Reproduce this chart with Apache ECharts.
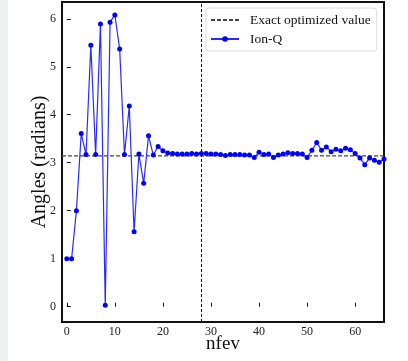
<!DOCTYPE html>
<html>
<head>
<meta charset="utf-8">
<script src="https://cdn.jsdelivr.net/npm/echarts@6/dist/echarts.min.js"></script>
<style>html,body{margin:0;padding:0;background:#fff;}#c{width:408px;height:361px;}</style>
</head>
<body>
<div id="c"></div>
<script>
const nfev = [];
for (let i = 0; i <= 66; i++) nfev.push(i);
const ionQ = [1.00,1.00,2.00,3.61,3.17,5.45,3.17,5.89,0.03,5.93,
  6.08,5.37,3.17,4.18,1.56,3.18,2.57,3.56,3.16,3.34,
  3.25,3.20,3.19,3.18,3.18,3.18,3.19,3.18,3.19,3.19,
  3.18,3.18,3.17,3.15,3.17,3.17,3.17,3.16,3.16,3.11,
  3.22,3.17,3.18,3.11,3.16,3.18,3.21,3.19,3.19,3.18,
  3.11,3.26,3.42,3.26,3.33,3.23,3.28,3.25,3.30,3.27,
  3.19,3.10,2.96,3.10,3.05,3.01,3.08];
const exactValue = Math.PI;
const optimumNfev = 28;
const xTicks = [0,10,20,30,40,50,60];
const yTicks = [0,1,2,3,4,5,6];
const xRange = [-1, 66];
const yRange = [-0.32, 6.35];

const font = 'Liberation Serif';
const chart = echarts.init(document.getElementById('c'));
chart.setOption({
  animation: false,
  backgroundColor: '#fff',
  graphic: [{type:'rect', shape:{x:0,y:0,width:8,height:361}, style:{fill:'#eef2ef'}, z:-1}],
  grid: {left: 62, right: 24, top: 2, bottom: 39, outerBoundsMode: 'none', containLabel: false,
    show: true, borderColor: '#111', borderWidth: 2, backgroundColor: 'transparent'},
  xAxis: {
    type: 'value', min: xRange[0], max: xRange[1],
    name: 'nfev', nameLocation: 'middle', nameGap: 13, nameMoveOverlap: false,
    nameTextStyle: {fontFamily: font, fontSize: 19, color: '#111'},
    axisLine: {show: false},
    splitLine: {show: false},
    axisTick: {inside: true, length: 4, customValues: xTicks, lineStyle: {color: '#111'}},
    axisLabel: {customValues: xTicks, fontFamily: font, fontSize: 12, color: '#222', margin: 4}
  },
  yAxis: {
    type: 'value', min: yRange[0], max: yRange[1],
    name: 'Angles (radians)', nameLocation: 'middle', nameGap: 12, nameMoveOverlap: false,
    nameTextStyle: {fontFamily: font, fontSize: 20, color: '#111'},
    axisLine: {show: false},
    splitLine: {show: false},
    axisTick: {inside: true, length: 4, customValues: yTicks, lineStyle: {color: '#111'}},
    axisLabel: {customValues: yTicks, fontFamily: font, fontSize: 12, color: '#222', margin: 6}
  },
  legend: {
    orient: 'vertical', left: 206, top: 8,
    backgroundColor: '#fff', borderColor: '#ddd', borderWidth: 1, borderRadius: 3,
    padding: [5, 6, 5, 4], itemGap: 5, itemWidth: 28, itemHeight: 7,
    textStyle: {fontFamily: font, fontSize: 13.5, color: '#111', padding: [0,0,0,6]},
    data: [
      {name: 'Exact optimized value', itemStyle: {opacity: 0}},
      {name: 'Ion-Q'}
    ]
  },
  series: [
    {
      name: 'Exact optimized value', type: 'line', symbol: 'none',
      data: [[xRange[0], exactValue], [xRange[1], exactValue]],
      lineStyle: {color: '#444', width: 1.3, type: [4, 2]},
      itemStyle: {color: '#444'},
      z: 1,
      markLine: {
        silent: true, symbol: 'none', label: {show: false},
        lineStyle: {color: '#111', width: 1, type: [3, 2]},
        data: [{xAxis: optimumNfev}]
      }
    },
    {
      name: 'Ion-Q', type: 'line', symbol: 'circle', symbolSize: 5,
      data: nfev.map((n, i) => [n, ionQ[i]]),
      lineStyle: {color: '#2a2aff', width: 1.2},
      itemStyle: {color: '#0000ff'},
      z: 3
    }
  ]
});
</script>
</body>
</html>
